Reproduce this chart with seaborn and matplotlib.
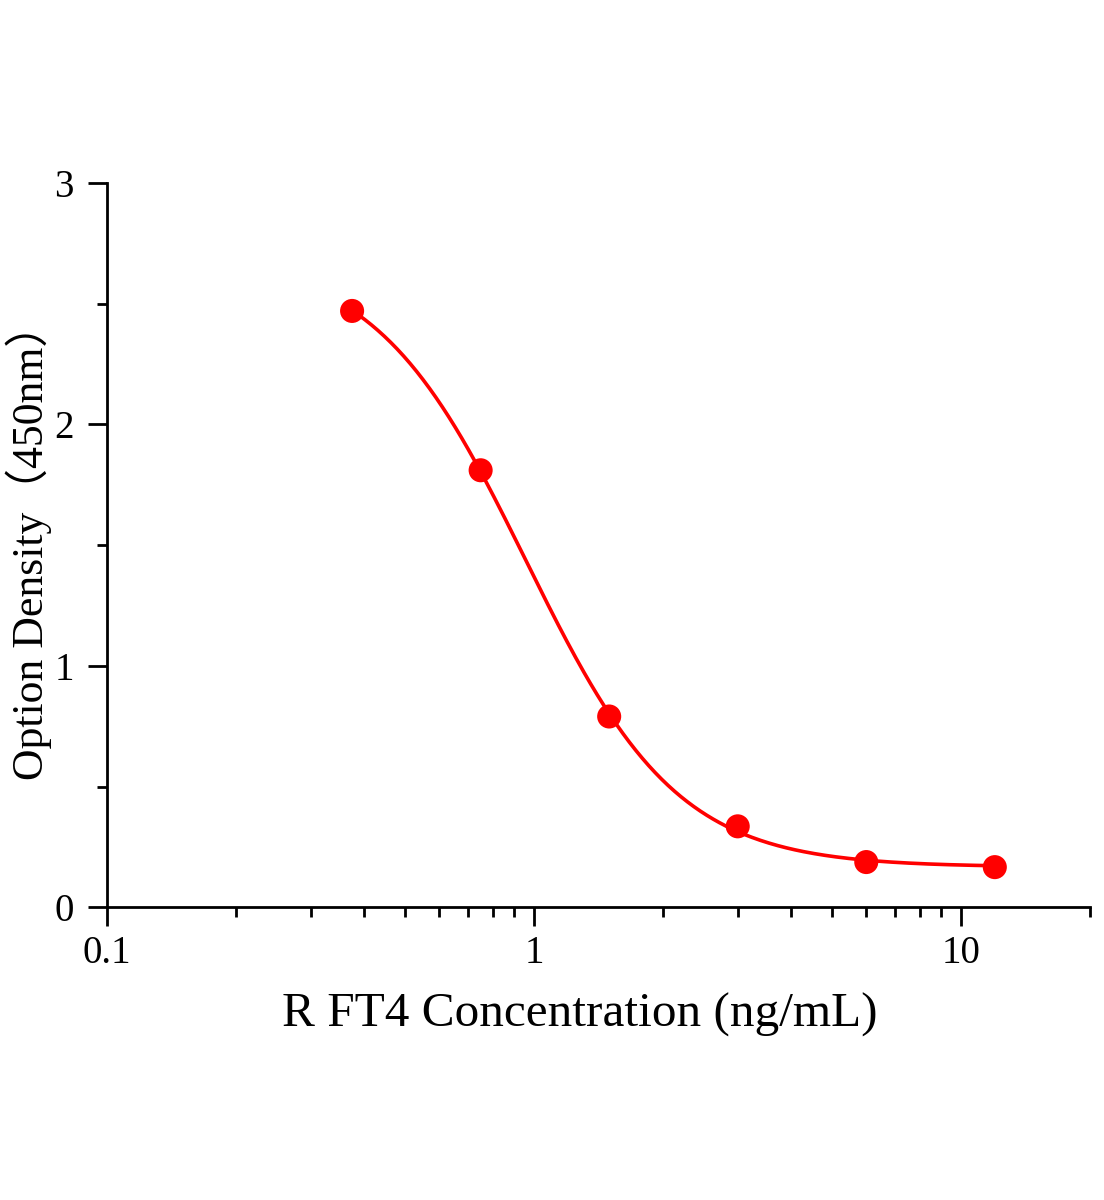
import numpy as np
import pandas as pd
import seaborn as sns
import matplotlib.pyplot as plt
from matplotlib.ticker import LogLocator, FixedLocator, NullFormatter, FuncFormatter

# standard curve data
conc = [0.375, 0.75, 1.5, 3, 6, 12]
od = [2.47, 1.81, 0.79, 0.335, 0.187, 0.166]

x_ticks = [0.1, 1, 10]
x_tick_labels = ['0.1', '1', '10']
y_ticks = [0, 1, 2, 3]


def four_pl(x, p):
    a, b, c, d = p
    return d + (a - d) / (1 + (x / c) ** b)


def fit_4pl(x, y, p0, n_iter=200):
    # simple Levenberg-Marquardt fit of the 4PL model
    p = np.array(p0, dtype=float)
    lam = 1e-3
    for _ in range(n_iter):
        r = y - four_pl(x, p)
        J = np.zeros((len(x), 4))
        for k in range(4):
            dp = np.zeros(4)
            dp[k] = 1e-6 * max(abs(p[k]), 1)
            J[:, k] = (four_pl(x, p + dp) - four_pl(x, p - dp)) / (2 * dp[k])
        A = J.T @ J
        step = np.linalg.solve(A + lam * np.diag(np.diag(A)), J.T @ r)
        p_new = p + step
        if p_new[2] > 0 and np.sum((y - four_pl(x, p_new)) ** 2) < np.sum(r ** 2):
            p = p_new
            lam *= 0.5
        else:
            lam *= 4
    return p


df = pd.DataFrame({'conc': conc, 'od': od})
params = fit_4pl(df['conc'].values, df['od'].values, [2.8, 2.0, 1.0, 0.15])
xs = np.logspace(np.log10(min(conc)), np.log10(max(conc)), 300)
curve = pd.DataFrame({'conc': xs, 'od': four_pl(xs, params)})

sns.set_style('ticks')
plt.rcParams['font.family'] = ['Liberation Serif', 'Noto Sans CJK SC']
plt.rcParams['axes.linewidth'] = 2
plt.rcParams['axes.edgecolor'] = 'black'
plt.rcParams['xtick.color'] = 'black'
plt.rcParams['ytick.color'] = 'black'
plt.rcParams['text.color'] = 'black'
plt.rcParams['axes.labelcolor'] = 'black'

fig = plt.figure(figsize=(11.04, 12), dpi=100)
ax = fig.add_axes([0.0969, 0.244, 0.890, 0.6035])

sns.lineplot(data=curve, x='conc', y='od', color='#ff0000', linewidth=2.6, ax=ax)
sns.scatterplot(data=df, x='conc', y='od', color='#ff0000', s=300, edgecolor='none', ax=ax, zorder=3)

ax.set_xscale('log')
ax.set_xlim(0.1, 20)
ax.set_ylim(0, 3)
ax.xaxis.set_major_locator(FixedLocator(x_ticks))
ax.xaxis.set_major_formatter(FuncFormatter(lambda v, pos: x_tick_labels[x_ticks.index(v)] if v in x_ticks else ''))
ax.xaxis.set_minor_locator(LogLocator(base=10, subs=np.arange(2, 10)))
ax.xaxis.set_minor_formatter(NullFormatter())
ax.set_yticks(y_ticks)
ax.set_yticks([0.5, 1.5, 2.5], minor=True)

sns.despine(ax=ax)
ax.tick_params(which='major', direction='out', length=14, width=2, labelsize=28)
ax.tick_params(axis='x', which='major', pad=6)
ax.tick_params(axis='y', which='major', pad=10)
ax.tick_params(which='minor', direction='out', length=7, width=2)

ax.set_xlabel('R FT4 Concentration (ng/mL)', fontsize=35.5)
ax.xaxis.set_label_coords(0.481, -0.118)
ax.set_ylabel('Option Density（450nm）', fontsize=31.5)
ax.yaxis.set_label_coords(-0.056, 0.505)

fig.savefig('out.png', dpi=100, facecolor='white')
